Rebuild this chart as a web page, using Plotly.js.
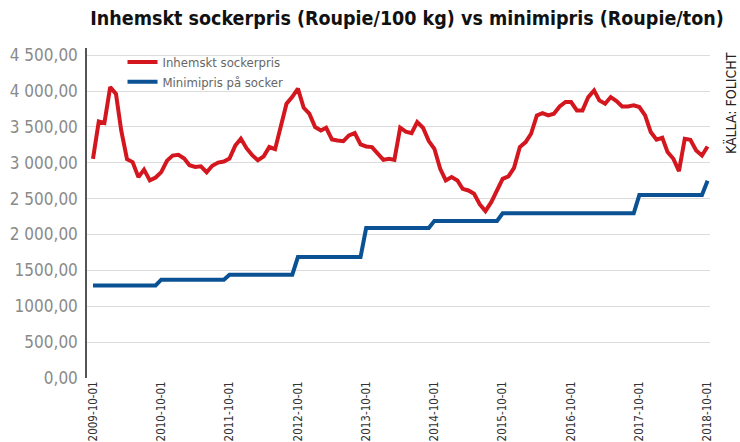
<!DOCTYPE html>
<html>
<head>
<meta charset="utf-8">
<script src="https://cdn.plot.ly/plotly-3.0.1.min.js"></script>
<style>
  body { margin: 0; background: #fff; }
  #plot { width: 740px; height: 442px; }
</style>
</head>
<body>
<div id="plot"></div>
<script>
// monthly, 2009-10 .. 2018-10
var months = [];
for (var i = 0; i < 109; i++) {
  var y = 2009 + Math.floor((9 + i) / 12), m = (9 + i) % 12 + 1;
  months.push(y + '-' + (m < 10 ? '0' : '') + m + '-01');
}

var sockerpris = [
  3055, 3575, 3555, 4055, 3960, 3450, 3050, 3010, 2800, 2905, 2755, 2795,
  2870, 3030, 3100, 3110, 3058, 2965, 2942, 2950, 2868, 2958, 3003, 3018,
  3058, 3240, 3335, 3200, 3102, 3035, 3090, 3220, 3190, 3487, 3823, 3920,
  4033, 3767, 3684, 3498, 3451, 3488, 3326, 3312, 3302, 3381, 3414, 3256,
  3228, 3219, 3135, 3042, 3056, 3040, 3490, 3435, 3414, 3568, 3488, 3302,
  3195, 2917, 2754, 2800, 2754, 2637, 2614, 2568, 2419, 2326, 2451, 2614,
  2777, 2810, 2930, 3219, 3288, 3405, 3660, 3693, 3660, 3684, 3786, 3847,
  3847, 3730, 3730, 3916, 4009, 3870, 3823, 3916, 3860, 3786, 3786, 3800,
  3777, 3660, 3428, 3321, 3349, 3149, 3056, 2884, 3335, 3321, 3172, 3102,
  3228
];

var minimipris = [
  1290, 1290, 1290, 1290, 1290, 1290, 1290, 1290, 1290, 1290, 1290, 1290,
  1370, 1370, 1370, 1370, 1370, 1370, 1370, 1370, 1370, 1370, 1370, 1370,
  1440, 1440, 1440, 1440, 1440, 1440, 1440, 1440, 1440, 1440, 1440, 1440,
  1685, 1685, 1685, 1685, 1685, 1685, 1685, 1685, 1685, 1685, 1685, 1685,
  2090, 2090, 2090, 2090, 2090, 2090, 2090, 2090, 2090, 2090, 2090, 2090,
  2190, 2190, 2190, 2190, 2190, 2190, 2190, 2190, 2190, 2190, 2190, 2190,
  2295, 2295, 2295, 2295, 2295, 2295, 2295, 2295, 2295, 2295, 2295, 2295,
  2295, 2295, 2295, 2295, 2295, 2295, 2295, 2295, 2295, 2295, 2295, 2295,
  2550, 2550, 2550, 2550, 2550, 2550, 2550, 2550, 2550, 2550, 2550, 2550,
  2750
];

var yTicks = [0, 500, 1000, 1500, 2000, 2500, 3000, 3500, 4000, 4500];
var yLabels = ['0,00', '500,00', '1000,00', '1500,00', '2 000,00', '2 500,00',
               '3 000,00', '3 500,00', '4 000,00', '4 500,00'];

var condensed = '"DejaVu Sans Condensed", "Liberation Sans Narrow", "Roboto", sans-serif';

var trace1 = {
  x: months,
  y: sockerpris,
  name: 'Inhemskt sockerpris',
  mode: 'lines',
  type: 'scatter',
  line: {color: '#d4171f', width: 4}
};

var trace2 = {
  x: months,
  y: minimipris,
  name: 'Minimipris på socker',
  mode: 'lines',
  type: 'scatter',
  line: {color: '#0b5294', width: 4}
};

var layout = {
  width: 740,
  height: 442,
  margin: {l: 87, r: 30, t: 48, b: 64},
  paper_bgcolor: '#fff',
  plot_bgcolor: '#fff',
  title: {
    text: '<b>Inhemskt sockerpris (Roupie/100 kg) vs minimipris (Roupie/ton)</b>',
    font: {family: condensed, size: 19.5, color: '#111'},
    x: 0.55, xanchor: 'center', y: 0.958, yanchor: 'middle'
  },
  xaxis: {
    type: 'date',
    range: ['2009-08-30', '2018-10-14'],
    tick0: '2009-10-01',
    dtick: 'M12',
    tickformat: '%Y-%m-%d',
    tickangle: -90,
    tickfont: {family: condensed, size: 11.5, color: '#333'},
    showgrid: false,
    showline: false,
    zeroline: false,
    ticks: '',
    ticklabelstandoff: 0
  },
  yaxis: {
    range: [0, 4600],
    tickvals: yTicks,
    ticktext: yLabels,
    tickfont: {family: condensed, size: 17, color: '#8a8a8a'},
    showgrid: true,
    gridcolor: '#dcdcdc',
    gridwidth: 1,
    zeroline: false,
    showline: true,
    linecolor: '#555',
    linewidth: 1.5,
    ticks: '',
    ticklabelstandoff: 4
  },
  legend: {
    x: 0.057, y: 1.003, xanchor: 'left', yanchor: 'top',
    bgcolor: 'rgba(0,0,0,0)',
    font: {family: condensed, size: 13, color: '#666'},
    tracegroupgap: 0
  },
  showlegend: true,
  annotations: [{
    text: 'KÄLLA: FOLICHT',
    xref: 'paper', yref: 'paper',
    x: 1.032, y: 0.833,
    xanchor: 'center', yanchor: 'middle',
    textangle: -90,
    showarrow: false,
    font: {family: condensed, size: 14, color: '#222'}
  }]
};

Plotly.newPlot('plot', [trace1, trace2], layout, {displayModeBar: false});
</script>
</body>
</html>
